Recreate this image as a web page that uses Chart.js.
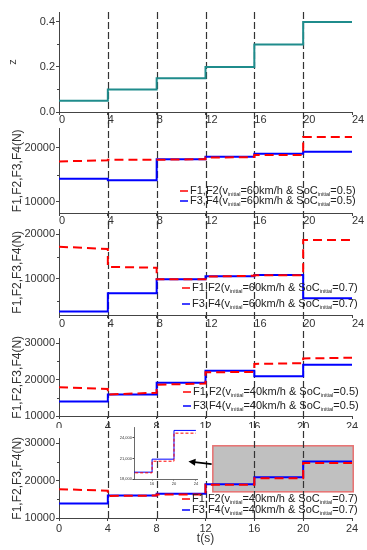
<!DOCTYPE html>
<html>
<head>
<meta charset="utf-8">
<script src="https://cdn.jsdelivr.net/npm/chart.js@4.4.0/dist/chart.umd.min.js"></script>
<style>
  html, body { margin: 0; padding: 0; background: #fff; }
  #wrap { position: relative; width: 367px; height: 550px; overflow: hidden; }
  .panel { position: absolute; left: 0; width: 367px; }
</style>
</head>
<body>
<div id="wrap">
  <div class="panel" style="top:0;height:124px"><canvas id="c1"></canvas></div>
  <div class="panel" style="top:121px;height:104px"><canvas id="c2"></canvas></div>
  <div class="panel" style="top:222px;height:105px"><canvas id="c3"></canvas></div>
  <div class="panel" style="top:331px;height:97px"><canvas id="c4"></canvas></div>
  <div class="panel" style="top:431px;height:119px"><canvas id="c5"></canvas></div>
  <div style="position:absolute;left:108px;top:424px;width:92px;height:62px"><canvas id="c6"></canvas></div>
</div>
<script>
// time axis
const stepTimes = [0, 4, 8, 12, 16, 20, 24];
const xTicks = [0, 4, 8, 12, 16, 20, 24];
const switchTimes = [4, 8, 12, 16, 20];

// panel 1: z
const zValues = [0.05, 0.1, 0.15, 0.2, 0.3, 0.4];
const zTicks = [0, 0.2, 0.4];

// panel 2: v=60km/h, SoC=0.5
const p2RedStart = [17500, 17800, 17800, 18200, 18700, 22000];
const p2RedEnd = [17700, 17800, 17900, 18300, 18700, 22000];
const p2Blue = [14300, 14000, 17900, 18350, 18900, 19300];
const p2Ticks = [10000, 20000];

// panel 3: v=60km/h, SoC=0.7
const p3RedStart = [17200, 12700, 9900, 10500, 10800, 18700];
const p3RedEnd = [16700, 12500, 9900, 10700, 10800, 18700];
const p3Blue = [2700, 6800, 9900, 10600, 10900, 5700];
const p3Ticks = [10000, 20000];

// panel 4: v=40km/h, SoC=0.5
const p4RedStart = [17900, 15900, 18600, 22000, 24300, 25800];
const p4RedEnd = [17400, 16400, 18900, 22100, 24500, 26000];
const p4Blue = [14000, 15900, 19100, 22400, 20900, 24100];
const p4Ticks = [10000, 20000, 30000];

// panel 5: v=40km/h, SoC=0.7
const p5RedStart = [17700, 15900, 16300, 18900, 20600, 24700];
const p5RedEnd = [17300, 16000, 16300, 18900, 20600, 24700];
const p5Blue = [13900, 16000, 16500, 19000, 20900, 25100];
const p5Ticks = [10000, 20000, 30000];

// zoom box + arrow in panel 5 (data coords)
const boxX = [12.6, 24.1];
const boxY = [17000, 29300];
const arrowFrom = [12.5, 24400];
const arrowTo = [10.6, 25100];

// inset
const insetXTicks = [16, 20, 24];
const insetYTicks = [18000, 21000, 24000];

// legend text
const speeds = ["60", "60", "40", "40"];
const socs = ["0.5", "0.7", "0.5", "0.7"];

const RED = "#ff0000";
const BLUE = "#0000ff";
const TEAL = "#1f8c8c";
const AXIS = "#444";
const FONT = "'Liberation Sans', Arial, sans-serif";
const tickFont = { family: FONT, size: 11 };

function stepLine(start, end) {
  const pts = [];
  for (let i = 0; i < start.length; i++) {
    pts.push({ x: stepTimes[i], y: start[i] });
    pts.push({ x: stepTimes[i + 1], y: end[i] });
  }
  return pts;
}

// dashed vertical lines at the switching times
function switchLines(fromArea, toArea) {
  return {
    id: "switchLines",
    beforeDatasetsDraw(chart) {
      const { ctx, chartArea, scales } = chart;
      const y0 = fromArea ? chartArea.top : 0;
      const y1 = toArea ? chartArea.bottom : chart.height;
      ctx.save();
      ctx.strokeStyle = "#333";
      ctx.lineWidth = 1.2;
      ctx.setLineDash([7, 3]);
      switchTimes.forEach((t) => {
        const x = Math.round(scales.x.getPixelForValue(t)) + 0.5;
        ctx.beginPath();
        ctx.moveTo(x, y0);
        ctx.lineTo(x, y1);
        ctx.stroke();
      });
      ctx.restore();
    },
  };
}

// small minor ticks halfway between the y labels
function minorTicks(ticks) {
  return {
    id: "minorTicks",
    afterDraw(chart) {
      const { ctx, chartArea, scales } = chart;
      ctx.save();
      ctx.strokeStyle = AXIS;
      ctx.lineWidth = 1;
      for (let i = 0; i < ticks.length; i++) {
        const step = i > 0 ? ticks[i] - ticks[i - 1] : ticks[1] - ticks[0];
        [ticks[i] - step / 2, ticks[i] + step / 2].forEach((v) => {
          const y = Math.round(scales.y.getPixelForValue(v)) + 0.5;
          if (y < chartArea.top || y > chartArea.bottom) return;
          ctx.beginPath();
          ctx.moveTo(chartArea.left - 2, y);
          ctx.lineTo(chartArea.left, y);
          ctx.stroke();
        });
      }
      ctx.restore();
    },
  };
}

function drawLegendRow(ctx, x, y, color, label, speed, soc) {
  ctx.save();
  ctx.strokeStyle = color;
  ctx.lineWidth = 1.5;
  ctx.beginPath();
  ctx.moveTo(x - 10, y);
  ctx.lineTo(x - 2, y);
  ctx.stroke();
  ctx.fillStyle = "#222";
  ctx.textBaseline = "middle";
  const big = "11px " + FONT;
  const small = "5.5px " + FONT;
  const parts = [
    [label + "(v", big, 0],
    ["initial", small, 3],
    ["=" + speed + "km/h & SoC", big, 0],
    ["initial", small, 3],
    ["=" + soc + ")", big, 0],
  ];
  let cx = x;
  parts.forEach(([txt, font, dy]) => {
    ctx.font = font;
    ctx.fillText(txt, cx, y + dy);
    cx += ctx.measureText(txt).width;
  });
  ctx.restore();
}

function legendPlugin(idx, x, y1, y2) {
  return {
    id: "subLegend",
    afterDraw(chart) {
      drawLegendRow(chart.ctx, x, y1, RED, "F1,F2", speeds[idx], socs[idx]);
      drawLegendRow(chart.ctx, x, y2, BLUE, "F3,F4", speeds[idx], socs[idx]);
    },
  };
}

const zoomBox = {
  id: "zoomBox",
  beforeDatasetsDraw(chart) {
    const { ctx, scales } = chart;
    const l = scales.x.getPixelForValue(boxX[0]);
    const r = scales.x.getPixelForValue(boxX[1]);
    const t = scales.y.getPixelForValue(boxY[1]);
    const b = scales.y.getPixelForValue(boxY[0]);
    ctx.save();
    ctx.fillStyle = "#c0c0c0";
    ctx.fillRect(l, t, r - l, b - t);
    ctx.strokeStyle = "#e87070";
    ctx.lineWidth = 1.5;
    ctx.strokeRect(l, t, r - l, b - t);
    ctx.restore();
  },
  afterDraw(chart) {
    const { ctx, scales } = chart;
    const x0 = scales.x.getPixelForValue(arrowFrom[0]);
    const y0 = scales.y.getPixelForValue(arrowFrom[1]);
    const x1 = scales.x.getPixelForValue(arrowTo[0]);
    const y1 = scales.y.getPixelForValue(arrowTo[1]);
    const a = Math.atan2(y1 - y0, x1 - x0);
    ctx.save();
    ctx.strokeStyle = "#000";
    ctx.fillStyle = "#000";
    ctx.lineWidth = 1.8;
    ctx.beginPath();
    ctx.moveTo(x0, y0);
    ctx.lineTo(x1 - 4 * Math.cos(a), y1 - 4 * Math.sin(a));
    ctx.stroke();
    ctx.beginPath();
    ctx.moveTo(x1, y1);
    ctx.lineTo(x1 - 7 * Math.cos(a) + 3.5 * Math.sin(a), y1 - 7 * Math.sin(a) - 3.5 * Math.cos(a));
    ctx.lineTo(x1 - 7 * Math.cos(a) - 3.5 * Math.sin(a), y1 - 7 * Math.sin(a) + 3.5 * Math.cos(a));
    ctx.closePath();
    ctx.fill();
    ctx.restore();
  },
};

function panelOptions(cfg) {
  return {
    responsive: true,
    maintainAspectRatio: false,
    animation: false,
    layout: { padding: { top: cfg.padTop || 0, right: 15, left: 0, bottom: 0 } },
    plugins: { legend: { display: false }, tooltip: { enabled: false } },
    elements: { point: { radius: 0 }, line: { tension: 0 } },
    scales: {
      x: {
        type: "linear",
        min: 0,
        max: 24,
        afterFit: (s) => { s.height = cfg.xHeight; },
        afterBuildTicks: (s) => { s.ticks = xTicks.map((v) => ({ value: v })); },
        grid: { drawOnChartArea: false, drawTicks: true, tickLength: 3, color: AXIS },
        border: { display: true, color: AXIS, width: 1 },
        ticks: { font: tickFont, color: "#333", padding: cfg.xPad, align: cfg.xAlign, maxRotation: 0, autoSkip: false },
        title: cfg.xTitle
          ? { display: true, text: cfg.xTitle, font: { family: FONT, size: 12 }, color: "#333", padding: { top: 0, bottom: 4 } }
          : { display: false },
      },
      y: {
        type: "linear",
        min: cfg.yMin,
        max: cfg.yMax,
        afterFit: (s) => { s.width = 59; },
        afterBuildTicks: (s) => { s.ticks = cfg.yTicks.map((v) => ({ value: v })); },
        grid: { drawOnChartArea: false, drawTicks: true, tickLength: 3, color: AXIS },
        border: { display: true, color: AXIS, width: 1 },
        ticks: { font: tickFont, color: "#333", padding: 1, callback: cfg.yFormat || ((v) => String(v)) },
        title: {
          display: true,
          text: cfg.yTitle,
          font: { family: FONT, size: cfg.yTitleSize || 12 },
          color: "#333",
          padding: { top: cfg.yTitlePad, bottom: 0 },
        },
      },
    },
  };
}

function forceDatasets(redStart, redEnd, blue, width, dash) {
  return [
    {
      data: stepLine(redStart, redEnd),
      borderColor: RED,
      borderWidth: width,
      borderDash: dash,
    },
    {
      data: stepLine(blue, blue),
      borderColor: BLUE,
      borderWidth: width,
    },
  ];
}

// panel 1: z
new Chart(document.getElementById("c1"), {
  type: "line",
  data: {
    datasets: [{ data: stepLine(zValues, zValues), borderColor: TEAL, borderWidth: 2 }],
  },
  options: panelOptions({
    padTop: 12, xHeight: 12, xPad: -2, xAlign: "start",
    yMin: 0, yMax: 0.444, yTicks: zTicks, yFormat: (v) => v.toFixed(1),
    yTitle: "z", yTitleSize: 11, yTitlePad: 6,
  }),
  plugins: [switchLines(true, false), minorTicks(zTicks)],
});

// panel 2
new Chart(document.getElementById("c2"), {
  type: "line",
  data: { datasets: forceDatasets(p2RedStart, p2RedEnd, p2Blue, 2, [9, 5]) },
  options: panelOptions({
    xHeight: 12, xPad: -2, xAlign: "start",
    yMin: 7966, yMax: 23560, yTicks: p2Ticks, yTitle: "F1,F2,F3,F4(N)", yTitlePad: 10,
  }),
  plugins: [switchLines(false, false), minorTicks(p2Ticks), legendPlugin(0, 190, 191 - 121, 201 - 121)],
});

// panel 3
new Chart(document.getElementById("c3"), {
  type: "line",
  data: { datasets: forceDatasets(p3RedStart, p3RedEnd, p3Blue, 2, [9, 5]) },
  options: panelOptions({
    xHeight: 12, xPad: -1, xAlign: "start",
    yMin: 1930, yMax: 21030, yTicks: p3Ticks, yTitle: "F1,F2,F3,F4(N)", yTitlePad: 10,
  }),
  plugins: [switchLines(false, false), minorTicks(p3Ticks), legendPlugin(1, 192, 288 - 222, 304 - 222)],
});

// panel 4
new Chart(document.getElementById("c4"), {
  type: "line",
  data: { datasets: forceDatasets(p4RedStart, p4RedEnd, p4Blue, 2, [9, 5]) },
  options: panelOptions({
    xHeight: 12, xPad: 1, xAlign: "center",
    yMin: 10000, yMax: 31255, yTicks: p4Ticks, yTitle: "F1,F2,F3,F4(N)", yTitlePad: 10,
  }),
  plugins: [switchLines(false, false), minorTicks(p4Ticks), legendPlugin(2, 193, 392 - 331, 406 - 331)],
});

// panel 5
new Chart(document.getElementById("c5"), {
  type: "line",
  data: { datasets: forceDatasets(p5RedStart, p5RedEnd, p5Blue, 2, [9, 5]) },
  options: panelOptions({
    xHeight: 32, xPad: 1, xAlign: "center", xTitle: "t(s)",
    yMin: 10000, yMax: 31224, yTicks: p5Ticks, yTitle: "F1,F2,F3,F4(N)", yTitlePad: 10,
  }),
  plugins: [zoomBox, switchLines(false, true), minorTicks(p5Ticks), legendPlugin(3, 192, 499 - 431, 510 - 431)],
});

// inset: zoom of panel 5, 12-24 s
new Chart(document.getElementById("c6"), {
  type: "line",
  data: { datasets: forceDatasets(p5RedStart, p5RedEnd, p5Blue, 1, [3, 2]) },
  options: {
    responsive: true,
    maintainAspectRatio: false,
    animation: false,
    layout: { padding: { top: 3, right: 3, left: 0, bottom: 0 } },
    plugins: { legend: { display: false }, tooltip: { enabled: false } },
    elements: { point: { radius: 0 }, line: { tension: 0 } },
    scales: {
      x: {
        type: "linear", min: 12.7, max: 24.2,
        afterFit: (s) => { s.height = 7; },
        afterBuildTicks: (s) => { s.ticks = insetXTicks.map((v) => ({ value: v })); },
        grid: { drawOnChartArea: false, tickLength: 1.5, color: AXIS },
        border: { display: true, color: AXIS, width: 0.8 },
        ticks: { font: { family: FONT, size: 4 }, color: "#333", padding: 0.5, maxRotation: 0, autoSkip: false },
      },
      y: {
        type: "linear", min: 18000, max: 25600,
        afterFit: (s) => { s.width = 26; },
        afterBuildTicks: (s) => { s.ticks = insetYTicks.map((v) => ({ value: v })); },
        grid: { drawOnChartArea: false, tickLength: 1.5, color: AXIS },
        border: { display: true, color: AXIS, width: 0.8 },
        ticks: { font: { family: FONT, size: 4 }, color: "#333", padding: 0.5 },
      },
    },
  },
});
</script>
</body>
</html>
